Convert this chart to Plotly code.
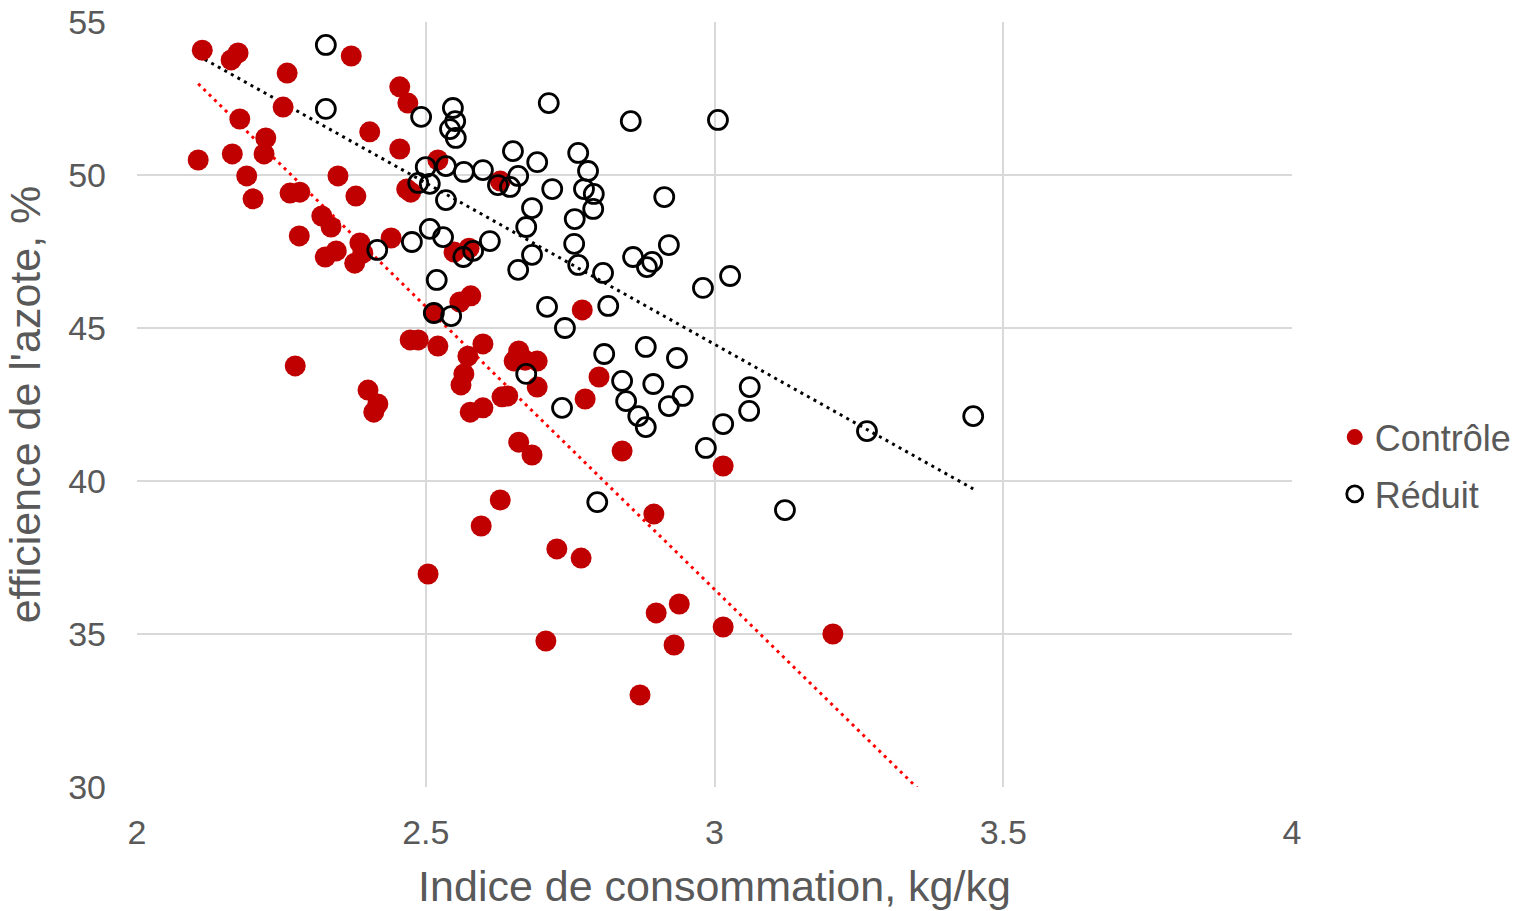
import numpy as np
import plotly.graph_objects as go

# Contrôle series
ctrl_x = [2.113, 2.163, 2.175, 2.371, 2.260, 2.253, 2.178, 2.223, 2.165, 2.220,
          2.106, 2.190, 2.201, 2.265, 2.282, 2.348, 2.379, 2.281, 2.320, 2.336,
          2.326, 2.345, 2.386, 2.391, 2.377, 2.440, 2.403, 2.455, 2.469, 2.455,
          2.467, 2.474, 2.521, 2.549, 2.575, 2.629, 2.559, 2.578, 2.514, 2.473,
          2.487, 2.521, 2.274, 2.400, 2.417, 2.410, 2.599, 2.573, 2.566, 2.561,
          2.577, 2.599, 2.632, 2.642, 2.661, 2.653, 2.672, 2.693, 2.693, 2.661,
          2.684, 2.771, 2.800, 2.776, 2.840, 3.015, 2.629, 2.596, 2.504, 2.727,
          2.769, 2.895, 2.708, 2.899, 2.939, 2.930, 3.015, 3.205, 2.871]
ctrl_y = [54.08, 53.76, 53.99, 53.89, 53.33, 52.22, 51.83, 51.21, 50.69, 50.69,
          50.49, 49.97, 49.22, 49.41, 49.44, 49.97, 49.31, 48.01, 48.66, 48.30,
          47.32, 47.52, 47.78, 47.45, 47.12, 47.94, 51.41, 52.88, 52.35, 50.85,
          49.54, 49.44, 50.49, 47.48, 47.61, 49.80, 45.85, 46.05, 45.49, 44.61,
          44.61, 44.41, 43.76, 42.97, 42.52, 42.25, 44.48, 44.08, 43.50, 43.14,
          42.25, 42.39, 42.75, 42.78, 44.25, 43.92, 43.95, 43.92, 43.07, 41.27,
          40.85, 45.59, 43.40, 42.68, 40.98, 40.49, 39.38, 38.53, 36.96, 37.78,
          37.48, 38.92, 34.77, 35.69, 35.98, 34.64, 35.23, 35.00, 33.01]

# Réduit series
red_x = [2.327, 2.327, 2.492, 2.547, 2.551, 2.542, 2.552, 2.713, 2.855, 3.006,
         2.500, 2.535, 2.487, 2.507, 2.535, 2.651, 2.693, 2.764, 2.781, 2.566,
         2.599, 2.660, 2.625, 2.646, 2.719, 2.774, 2.791, 2.790, 2.684, 2.674,
         2.758, 2.913, 2.476, 2.507, 2.530, 2.416, 2.611, 2.565, 2.582, 2.757,
         2.921, 2.859, 2.892, 2.883, 2.684, 2.660, 2.764, 2.807, 2.980, 3.027,
         2.519, 2.514, 2.544, 2.710, 2.741, 2.816, 2.809, 2.881, 2.935, 2.674,
         2.840, 2.894, 2.847, 2.945, 2.921, 2.868, 2.881, 2.736, 3.061, 3.060,
         3.015, 2.985, 3.264, 3.448, 2.797, 3.122]
red_y = [54.25, 52.16, 51.90, 52.19, 51.76, 51.50, 51.21, 52.35, 51.76, 51.80,
         50.26, 50.29, 49.74, 49.71, 49.18, 50.78, 50.42, 50.72, 50.13, 50.10,
         50.16, 49.97, 49.67, 49.61, 49.54, 49.54, 49.38, 48.89, 48.92, 48.30,
         48.56, 49.28, 47.81, 48.24, 47.97, 47.55, 47.84, 47.32, 47.52, 47.75,
         47.71, 47.32, 47.16, 46.99, 47.39, 46.90, 47.06, 46.80, 46.31, 46.70,
         46.57, 45.49, 45.39, 45.69, 45.00, 45.72, 44.15, 44.38, 44.02, 43.50,
         43.27, 43.17, 42.61, 42.78, 42.45, 42.12, 41.76, 42.39, 43.07, 42.29,
         41.86, 41.08, 41.63, 42.12, 39.31, 39.05]

x_ticks = [2, 2.5, 3, 3.5, 4]
y_ticks = [30, 35, 40, 45, 50, 55]

GRAY = "#595959"
FONT = "Liberation Sans, Arial, sans-serif"

all_x = np.array(ctrl_x + red_x)
x_line = np.array([all_x.min(), all_x.max()])

def fit(xs, ys):
    k, b = np.polyfit(np.array(xs), np.array(ys), 1)
    return k * x_line + b

fig = go.Figure()

fig.add_trace(go.Scatter(
    x=x_line, y=fit(ctrl_x, ctrl_y), mode="lines", showlegend=False,
    line=dict(color="#FF0000", width=3, dash="3px,4.5px"), hoverinfo="skip"))
fig.add_trace(go.Scatter(
    x=x_line, y=fit(red_x, red_y), mode="lines", showlegend=False,
    line=dict(color="#000000", width=3, dash="3px,4.5px"), hoverinfo="skip"))

fig.add_trace(go.Scatter(
    x=ctrl_x, y=ctrl_y, mode="markers", name="Contrôle", legendgroup="a",
    marker=dict(symbol="circle", size=21, color="#C00000",
                line=dict(width=0))))
fig.add_trace(go.Scatter(
    x=red_x, y=red_y, mode="markers", name="Réduit", legendgroup="b",
    marker=dict(symbol="circle-open", size=19, color="#000000",
                line=dict(width=2.8, color="#000000"))))

fig.update_layout(
    width=1530, height=911,
    margin=dict(l=137, r=238, t=22, b=124, autoexpand=False),
    paper_bgcolor="white", plot_bgcolor="white",
    font=dict(family=FONT, color=GRAY, size=34),
    legend=dict(x=1.037, y=0.42, xanchor="left", yanchor="middle",
                font=dict(size=36, color=GRAY), itemsizing="trace",
                traceorder="grouped", tracegroupgap=7,
                bgcolor="rgba(0,0,0,0)"),
    xaxis=dict(range=[2, 4], tickvals=x_ticks, ticktext=[str(v) for v in x_ticks],
               showgrid=True, gridcolor="#D9D9D9", gridwidth=1.5,
               zeroline=False, showline=False, ticks="", ticklen=0,
               ticklabelstandoff=22,
               tickfont=dict(size=34, color=GRAY),
               title=dict(text="Indice de consommation, kg/kg",
                          font=dict(size=43, color=GRAY), standoff=20)),
    yaxis=dict(range=[30, 55], tickvals=y_ticks,
               showgrid=True, gridcolor="#D9D9D9", gridwidth=1.5,
               zeroline=False, showline=False, ticks="", ticklen=0,
               ticklabelstandoff=30,
               tickfont=dict(size=34, color=GRAY),
               title=dict(text="efficience de l'azote, %",
                          font=dict(size=43, color=GRAY), standoff=14)),
)

fig.write_html("out.html")
